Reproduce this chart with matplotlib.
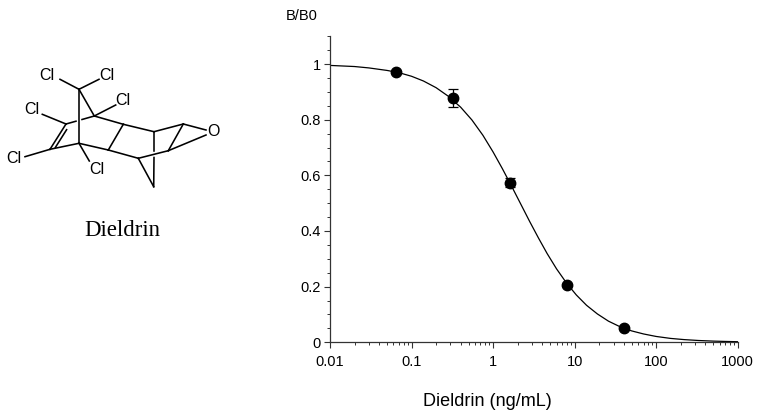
import matplotlib
matplotlib.use("Agg")
import matplotlib.pyplot as plt
from matplotlib.ticker import MultipleLocator, LogLocator, NullFormatter, FixedLocator

plt.rcParams['font.family'] = ['Liberation Sans', 'DejaVu Sans']

# measured standards (ng/mL) and B/B0
conc = [0.064, 0.32, 1.6, 8.0, 40.0]
bb0 = [0.970, 0.877, 0.573, 0.207, 0.052]
bb0_err = [0.004, 0.033, 0.016, 0.004, 0.004]

# fitted curve
curve_conc = [0.01, 0.02, 0.03, 0.05, 0.07, 0.1, 0.14, 0.2, 0.28, 0.4, 0.55, 0.75, 1.0,
              1.3, 1.7, 2.2, 2.8, 3.6, 4.6, 6.0, 8.0, 10.5, 14, 19, 26, 36, 50, 70,
              100, 150, 220, 330, 500, 700, 1000]
curve_bb0 = [0.995, 0.991, 0.986, 0.977, 0.969, 0.956, 0.939, 0.915, 0.885, 0.845, 0.799,
             0.744, 0.684, 0.624, 0.559, 0.495, 0.435, 0.375, 0.319, 0.264, 0.212, 0.170,
             0.133, 0.102, 0.076, 0.056, 0.041, 0.030, 0.021, 0.014, 0.0097, 0.0065,
             0.0043, 0.0031, 0.0021]

xticks = [0.01, 0.1, 1, 10, 100, 1000]
xtick_labels = ['0.01', '0.1', '1', '10', '100', '1000']
yticks = [0, 0.2, 0.4, 0.6, 0.8, 1.0]
ytick_labels = ['0', '0.2', '0.4', '0.6', '0.8', '1']

W, H = 760, 418
fig = plt.figure(figsize=(W / 100, H / 100), dpi=100)

# ---- structure drawing (pixel coordinates) ----
sx = fig.add_axes([0, 0, 1, 1])
sx.set_xlim(0, W)
sx.set_ylim(H, 0)
sx.axis('off')

atoms = {
    'C7': (79, 89.3), 'C1': (94.3, 116), 'C4': (79, 143.3), 'C2': (66, 124),
    'C3': (50, 149.3), 'C6': (123.3, 124.3), 'C5': (108.3, 150),
    'C6a': (154, 131.7), 'C5a': (138.3, 158.3), 'E1': (183.3, 124),
    'E2': (168.3, 150.7), 'CH2': (153.7, 186.7),
}
bonds = [('C7', 'C4'), ('C7', 'C1'), ('C2', 'C3'), ('C3', 'C4'), ('C1', 'C6'),
         ('C4', 'C5'), ('C5', 'C6'), ('C6', 'C6a'), ('C5', 'C5a'), ('C6a', 'E1'),
         ('C5a', 'E2'), ('E1', 'E2'), ('C5a', 'CH2')]
lw = 1.15
for a, b in bonds:
    (x1, y1), (x2, y2) = atoms[a], atoms[b]
    sx.plot([x1, x2], [y1, y2], color='black', lw=lw)

# C2-C1 passes behind the C7-C4 bridge
sx.plot([66, 76], [124, 121.2], color='black', lw=lw)
sx.plot([82, 94.3], [119.5, 116], color='black', lw=lw)
# bridge C6a-CH2 passes behind C5a-E2
sx.plot([154, 154], [131.7, 151], color='black', lw=lw)
sx.plot([154, 153.7], [157.5, 186.7], color='black', lw=lw)
# inner line of the C2=C3 double bond
sx.plot([66.6, 55.4], [129.7, 147.4], color='black', lw=lw)

# Cl substituents: bond end points and label positions
cl_bonds = [((79, 89.3), (60, 79.3)), ((79, 89.3), (99, 79.3)), ((94.3, 116), (115.7, 105)),
            ((66, 124), (42.3, 114.3)), ((50, 149.3), (25, 156.7)), ((79, 143.3), (89.3, 161))]
for (x1, y1), (x2, y2) in cl_bonds:
    sx.plot([x1, x2], [y1, y2], color='black', lw=lw)
cl_pos = [(47.2, 75), (107.3, 75), (123.3, 100.7), (32.3, 109.3), (13.7, 158.3), (96.7, 169)]
for px, py in cl_pos:
    sx.text(px, py, 'Cl', ha='center', va='center', fontsize=11.5)

# epoxide oxygen
sx.plot([183.3, 206], [124, 130], color='black', lw=lw)
sx.plot([168.3, 206], [150.7, 135], color='black', lw=lw)
sx.text(213.7, 131.7, 'O', ha='center', va='center', fontsize=11.5)

sx.text(122, 231, 'Dieldrin', ha='center', va='center', fontsize=16.5,
        family=['Liberation Serif', 'DejaVu Serif'])

# ---- standard curve ----
ax = fig.add_axes([330 / W, (H - 342.3) / H, 407.7 / W, 306.1 / H])
ax.plot(curve_conc, curve_bb0, color='black', lw=0.9)
ax.errorbar(conc, bb0, yerr=bb0_err, fmt='o', color='black', ms=7.5,
            capsize=3.6, elinewidth=0.9, capthick=0.9)

ax.set_xscale('log')
ax.set_xlim(0.01, 1000)
ax.set_ylim(0, 1.1)
ax.xaxis.set_major_locator(FixedLocator(xticks))
ax.set_xticklabels(xtick_labels)
ax.xaxis.set_minor_locator(LogLocator(base=10, subs=range(2, 10)))
ax.xaxis.set_minor_formatter(NullFormatter())
ax.yaxis.set_major_locator(FixedLocator(yticks))
ax.set_yticklabels(ytick_labels)
ax.yaxis.set_minor_locator(MultipleLocator(0.05))

for side in ['top', 'right']:
    ax.spines[side].set_visible(False)
for side in ['left', 'bottom']:
    ax.spines[side].set_linewidth(0.9)
    ax.spines[side].set_color('#333333')
ax.tick_params(which='major', direction='out', length=4, width=0.8, labelsize=10.5, color='#333333')
ax.tick_params(axis='x', which='major', pad=5)
ax.tick_params(axis='y', which='major', pad=2.5)
ax.tick_params(which='minor', direction='out', length=2, width=0.7, color='#333333')

fig.text(318 / W, (H - 16) / H, 'B/B0', ha='right', va='center', fontsize=10.5)
fig.text(487 / W, (H - 401.7) / H, 'Dieldrin (ng/mL)', ha='center', va='center', fontsize=13)

fig.savefig('out.png', dpi=100)
